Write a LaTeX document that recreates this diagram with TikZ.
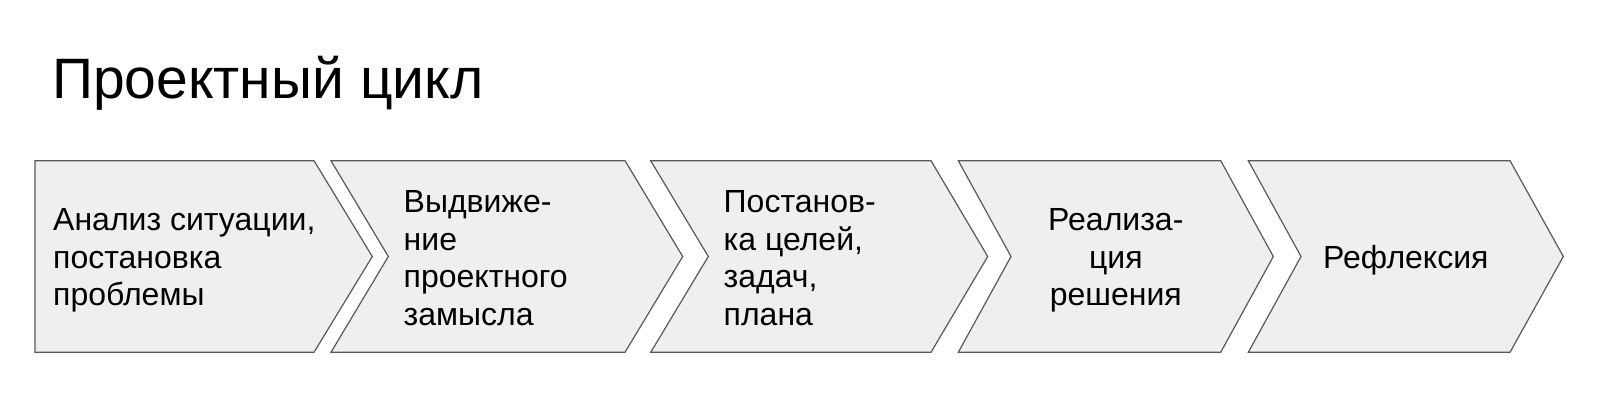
\documentclass[tikz,border=0pt]{standalone}
\usepackage{fontspec}
\setmainfont{Liberation Sans}
\usepackage{tikz}

\definecolor{stagefill}{HTML}{EFEFEF}
\definecolor{stageline}{HTML}{595959}

\tikzset{
    stage/.style={draw=stageline, fill=stagefill, line width=1.2pt, line join=miter},
    stagetext/.style={inner sep=0pt, font=\fontsize{32}{37.5}\selectfont},
}

\begin{document}
\begin{tikzpicture}[x=1pt, y=-1pt]
    \useasboundingbox (0,0) rectangle (1600,406);

    % Title
    \node[anchor=base west, inner sep=0pt, font=\fontsize{57}{60}\selectfont] (title) at (52,99) {Проектный цикл};

    % Draw stages
    \draw[stage] (35,160.7) -- (314,160.7) -- (372.3,256.5) -- (314,352.3) -- (35,352.3) -- cycle;
    \draw[stage] (331,160.7) -- (625,160.7) -- (682.7,256.5) -- (625,352.3) -- (331,352.3) -- (388.3,256.5) -- cycle;
    \draw[stage] (650.7,160.7) -- (931,160.7) -- (987.7,256.5) -- (931,352.3) -- (650.7,352.3) -- (708.3,256.5) -- cycle;
    \draw[stage] (958.3,160.7) -- (1220.7,160.7) -- (1273.3,256.5) -- (1220.7,352.3) -- (958.3,352.3) -- (1011,256.5) -- cycle;
    \draw[stage] (1248.3,160.7) -- (1510,160.7) -- (1563.3,256.5) -- (1510,352.3) -- (1248.3,352.3) -- (1301,256.5) -- cycle;

    % Labels (base = last line)
    \node[stagetext, anchor=base west, align=left] (s1) at (53,305.7) {Анализ ситуации,\\постановка\\проблемы};
    \node[stagetext, anchor=base west, align=left] (s2) at (403.5,325) {Выдвиже-\\ние\\проектного\\замысла};
    \node[stagetext, anchor=base west, align=left] (s3) at (723.5,325) {Постанов-\\ка целей,\\задач,\\плана};
    \node[stagetext, anchor=base, align=center] (s4) at (1115.8,305.7) {Реализа-\\ция\\решения};
    \node[stagetext, anchor=base, align=center] (s5) at (1405.8,268.3) {Рефлексия};
\end{tikzpicture}
\end{document}
